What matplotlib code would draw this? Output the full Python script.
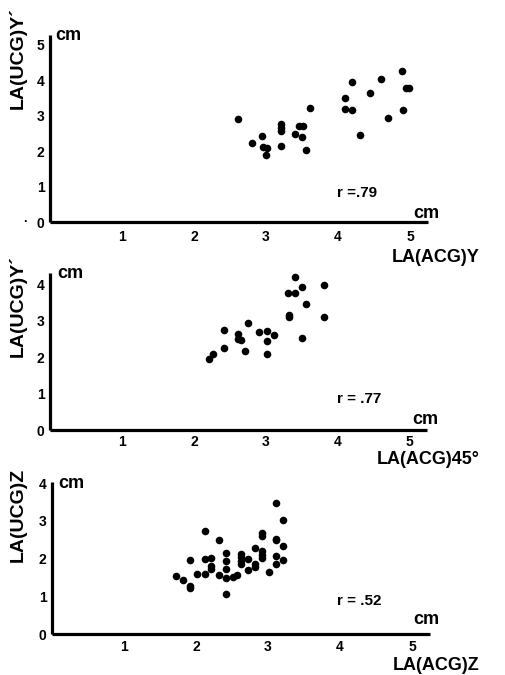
import matplotlib
matplotlib.use('Agg')
import matplotlib.pyplot as plt

plt.rcParams['font.family'] = ['Liberation Sans', 'DejaVu Sans']
plt.rcParams['font.weight'] = 'bold'

W, H = 506, 675

# panel 1: LA(ACG)Y vs LA(UCG)Y'
y_x = [2.61, 2.81, 2.95, 2.96, 3.01, 3.00, 3.21, 3.21, 3.21, 3.21, 3.40, 3.46, 3.52, 3.50,
       3.56, 3.61, 4.10, 4.10, 4.20, 4.20, 4.30, 4.44, 4.60, 4.69, 4.89, 4.90, 4.94, 4.99]
y_y = [2.92, 2.24, 2.44, 2.12, 2.09, 1.90, 2.76, 2.66, 2.56, 2.15, 2.48, 2.70, 2.70, 2.41,
       2.04, 3.23, 3.50, 3.18, 3.96, 3.15, 2.47, 3.65, 4.03, 2.95, 4.26, 3.15, 3.79, 3.79]

# panel 2: LA(ACG)45 vs LA(UCG)Y'
d45_x = [2.21, 2.26, 2.42, 2.42, 2.61, 2.61, 2.65, 2.71, 2.75, 2.91, 3.01, 3.01, 3.01, 3.12,
         3.31, 3.32, 3.32, 3.41, 3.41, 3.50, 3.56, 3.50, 3.81, 3.81]
d45_y = [1.94, 2.10, 2.74, 2.25, 2.63, 2.49, 2.46, 2.18, 2.93, 2.70, 2.71, 2.45, 2.09, 2.62,
         3.75, 3.17, 3.10, 4.19, 3.77, 3.93, 3.47, 2.52, 3.98, 3.11]

# panel 3: LA(ACG)Z vs LA(UCG)Z
z_x = [1.72, 1.82, 1.92, 1.92, 1.92, 2.02, 2.12, 2.12, 2.12, 2.21, 2.21, 2.21, 2.32, 2.32,
       2.42, 2.42, 2.42, 2.42, 2.42, 2.52, 2.57, 2.62, 2.62, 2.62, 2.62, 2.72, 2.72, 2.82,
       2.82, 2.82, 2.92, 2.92, 2.92, 2.92, 2.92, 3.02, 3.11, 3.11, 3.11, 3.11, 3.11, 3.21,
       3.21, 3.21]
z_y = [1.54, 1.42, 1.28, 1.21, 1.96, 1.60, 2.72, 1.99, 1.58, 2.01, 1.81, 1.72, 2.49, 1.56,
       2.15, 1.93, 1.73, 1.48, 1.05, 1.50, 1.56, 2.13, 2.04, 1.93, 1.85, 1.99, 1.71, 2.29,
       1.85, 1.78, 2.68, 2.60, 2.21, 2.09, 2.01, 1.64, 3.46, 2.53, 2.48, 2.08, 1.85, 3.03,
       2.34, 1.96]

r_labels = ['r =.79', 'r = .77', 'r = .52']
x_titles = ['LA(ACG)Y', 'LA(ACG)45\u00b0', 'LA(ACG)Z']
y_titles = ['LA(UCG)Y\u00b4', 'LA(UCG)Y\u00b4', 'LA(UCG)Z']


def ftext(x, y, s, **kw):
    # place text with pixel coordinates measured from the top left
    plt.gcf().text(x / W, 1 - y / H, s, fontweight='bold', **kw)


def panel(left, bottom, right, top, xmax, ymax, xs, ys, yticks, xpad):
    ax = plt.gcf().add_axes([left / W, 1 - bottom / H, (right - left) / W, (bottom - top) / H])
    ax.scatter(xs, ys, s=30, color='black', linewidths=0, zorder=3)
    ax.set_xlim(0, xmax)
    ax.set_ylim(0, ymax)
    ax.set_xticks([1, 2, 3, 4, 5])
    ax.set_yticks(yticks)
    for s in ['top', 'right']:
        ax.spines[s].set_visible(False)
    for s in ['left', 'bottom']:
        ax.spines[s].set_linewidth(2.3)
        ax.spines[s].set_capstyle('butt')
    ax.tick_params(axis='x', length=0, pad=xpad, labelsize=10)
    ax.tick_params(axis='y', length=0, pad=4, labelsize=10)
    for lab in ax.get_xticklabels() + ax.get_yticklabels():
        lab.set_fontweight('bold')
    ax.patch.set_alpha(0)
    return ax


def plot():
    plt.figure(figsize=(W / 100, H / 100), dpi=100)

    panel(50, 222, 428, 35, 5.25, 5.28, y_x, y_y, [0, 1, 2, 3, 4, 5], 6)
    panel(50, 430, 427, 273, 5.24, 4.31, d45_x, d45_y, [0, 1, 2, 3, 4], 3.5)
    panel(52, 634, 430, 482, 5.25, 4.03, z_x, z_y, [0, 1, 2, 3, 4], 4.5)

    # cm units
    for x, y in [(55, 36), (57, 274), (58, 484)]:
        ftext(x, y, 'cm', fontsize=13, ha='left', va='center')
    for x, y in [(413, 214), (412, 419), (413, 619)]:
        ftext(x, y, 'cm', fontsize=13, ha='left', va='center')

    # correlation
    for y, s in zip([193, 399, 601], r_labels):
        ftext(337, y, s, fontsize=11, ha='left', va='center')

    # axis titles
    for y, s in zip([257, 460, 665], x_titles):
        ftext(480, y, s, fontsize=13, ha='right', va='center')
    for y, s in zip([58, 306, 515], y_titles):
        ftext(18, y, s, fontsize=14, ha='center', va='center', rotation=90)

    ftext(25, 222, '\u00b7', fontsize=9, ha='center', va='center')

    plt.savefig('out.png', dpi=100)


if __name__ == '__main__':
    plot()
